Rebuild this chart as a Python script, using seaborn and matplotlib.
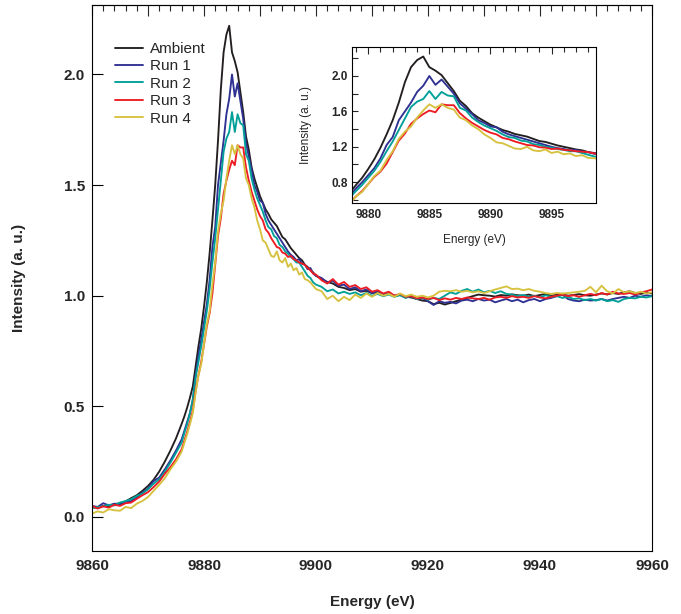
import numpy as np
import pandas as pd
import matplotlib
matplotlib.use('Agg')
import matplotlib.pyplot as plt
from matplotlib.ticker import MultipleLocator, FormatStrFormatter
import seaborn as sns

# Energy grid (eV): 1 eV pre-edge, 0.5 eV across the edge, 1 eV post-edge
energy = np.concatenate([
    np.arange(9860.0, 9876.5, 1.0),
    np.arange(9876.5, 9900.5, 0.5),
    np.arange(9901.0, 9960.5, 1.0),
])

ambient = [
    # 9860 - 9876
    0.045, 0.040, 0.050, 0.048, 0.058, 0.062, 0.070, 0.085, 0.098, 0.118,
    0.140, 0.168, 0.205, 0.250, 0.300, 0.355, 0.420,
    # 9876.5 - 9900
    0.455, 0.495, 0.540, 0.590, 0.680, 0.770, 0.850, 0.950, 1.060, 1.190,
    1.340, 1.500, 1.700, 1.930, 2.100, 2.180, 2.220, 2.100, 2.060, 2.010,
    1.920, 1.830, 1.720, 1.660, 1.580, 1.530, 1.490, 1.450, 1.420, 1.390,
    1.370, 1.345, 1.330, 1.315, 1.290, 1.265, 1.255, 1.235, 1.215, 1.200,
    1.185, 1.170, 1.160, 1.140, 1.130, 1.115, 1.105, 1.090,
    # 9901 - 9960
    1.075, 1.062, 1.055, 1.040, 1.035, 1.025, 1.030, 1.018, 1.022, 1.012,
    1.015, 1.005, 1.010, 1.000, 1.004, 0.995, 0.992, 0.985, 0.978, 0.975,
    0.962, 0.968, 0.960, 0.967, 0.975, 0.982, 0.990, 0.998, 1.005, 1.002,
    1.000, 0.996, 1.003, 1.000, 1.006, 1.002, 1.000, 1.005, 0.998, 1.003,
    1.008, 1.000, 1.004, 1.006, 1.000, 1.003, 1.007, 1.002, 1.000, 1.005,
    1.010, 1.006, 1.012, 1.008, 1.015, 1.020, 1.012, 1.008, 1.014, 1.010,
]

run1 = [
    0.050, 0.045, 0.062, 0.052, 0.060, 0.055, 0.068, 0.072, 0.088, 0.110,
    0.128, 0.162, 0.178, 0.215, 0.255, 0.300, 0.350,
    0.390, 0.430, 0.470, 0.530, 0.640, 0.730, 0.800, 0.880, 0.960, 1.070,
    1.220, 1.310, 1.500, 1.600, 1.700, 1.820, 1.890, 2.000, 1.900, 1.960,
    1.880, 1.800, 1.690, 1.630, 1.570, 1.500, 1.470, 1.430, 1.420, 1.370,
    1.340, 1.320, 1.300, 1.280, 1.260, 1.240, 1.220, 1.200, 1.185, 1.175,
    1.160, 1.165, 1.145, 1.140, 1.120, 1.125, 1.100, 1.090,
    1.080, 1.060, 1.068, 1.045, 1.050, 1.030, 1.038, 1.020, 1.028, 1.012,
    1.020, 1.005, 1.012, 0.998, 1.005, 0.992, 0.998, 0.985, 0.990, 0.975,
    0.958, 0.975, 0.968, 0.972, 0.965, 0.978, 0.982, 0.975, 0.985, 0.978,
    0.982, 0.970, 0.978, 0.985, 0.975, 0.982, 0.970, 0.980, 0.985, 0.975,
    0.985, 0.990, 0.998, 1.005, 0.985, 0.978, 0.975, 0.982, 0.978, 0.980,
    0.985, 0.978, 0.985, 0.990, 0.995, 0.990, 1.000, 0.995, 1.002, 0.998,
]

run2 = [
    0.040, 0.045, 0.048, 0.055, 0.052, 0.065, 0.072, 0.080, 0.095, 0.105,
    0.125, 0.150, 0.170, 0.205, 0.245, 0.290, 0.335,
    0.380, 0.420, 0.470, 0.530, 0.630, 0.700, 0.770, 0.850, 0.930, 1.030,
    1.150, 1.260, 1.390, 1.520, 1.650, 1.710, 1.740, 1.830, 1.740, 1.820,
    1.780, 1.770, 1.640, 1.610, 1.530, 1.480, 1.440, 1.410, 1.380, 1.340,
    1.310, 1.300, 1.270, 1.260, 1.230, 1.220, 1.200, 1.190, 1.175, 1.165,
    1.150, 1.150, 1.130, 1.110, 1.090, 1.080, 1.060, 1.050,
    1.040, 1.020, 1.028, 1.010, 1.018, 1.008, 1.015, 1.002, 1.012, 1.000,
    1.008, 0.998, 1.005, 0.995, 1.002, 0.990, 0.998, 0.985, 0.992, 0.982,
    0.990, 0.985, 1.000, 1.015, 1.008, 1.022, 1.030, 1.018, 1.028, 1.015,
    1.022, 1.012, 1.020, 1.008, 1.005, 0.998, 1.003, 0.995, 1.000, 0.992,
    1.002, 0.995, 0.998, 0.990, 0.995, 0.985, 0.988, 0.980, 0.985, 0.978,
    0.985, 0.975, 0.980, 0.972, 0.985, 0.990, 0.988, 0.995, 0.992, 0.998,
]

run3 = [
    0.050, 0.038, 0.048, 0.042, 0.055, 0.050, 0.062, 0.065, 0.082, 0.098,
    0.112, 0.135, 0.160, 0.195, 0.225, 0.260, 0.305,
    0.345, 0.385, 0.430, 0.480, 0.570, 0.640, 0.700, 0.780, 0.860, 0.920,
    1.010, 1.140, 1.270, 1.350, 1.460, 1.520, 1.570, 1.610, 1.590, 1.680,
    1.670, 1.670, 1.580, 1.520, 1.470, 1.430, 1.390, 1.360, 1.340, 1.300,
    1.285, 1.260, 1.240, 1.220, 1.215, 1.195, 1.190, 1.175, 1.180, 1.165,
    1.160, 1.150, 1.145, 1.140, 1.125, 1.115, 1.100, 1.095,
    1.070, 1.055, 1.075, 1.050, 1.062, 1.040, 1.048, 1.030, 1.038, 1.018,
    1.025, 1.010, 1.018, 1.000, 1.008, 0.995, 0.998, 0.988, 0.992, 0.985,
    0.990, 0.980, 0.988, 0.982, 0.990, 0.985, 0.992, 0.988, 0.985, 0.990,
    0.982, 0.992, 0.995, 0.990, 0.998, 0.992, 0.995, 0.990, 0.998, 0.992,
    0.988, 0.995, 1.000, 1.005, 0.998, 1.002, 0.995, 1.002, 1.008, 1.002,
    1.012, 1.005, 1.018, 1.010, 1.008, 1.012, 1.005, 1.015, 1.020, 1.028,
]

run4 = [
    0.015, 0.025, 0.020, 0.035, 0.030, 0.028, 0.045, 0.040, 0.060, 0.072,
    0.090, 0.118, 0.145, 0.175, 0.215, 0.250, 0.295,
    0.335, 0.375, 0.420, 0.470, 0.560, 0.640, 0.690, 0.780, 0.870, 0.930,
    1.050, 1.150, 1.290, 1.370, 1.430, 1.530, 1.610, 1.680, 1.640, 1.680,
    1.640, 1.620, 1.530, 1.500, 1.440, 1.400, 1.340, 1.300, 1.250, 1.240,
    1.210, 1.180, 1.175, 1.200, 1.160, 1.150, 1.170, 1.130, 1.145, 1.115,
    1.125, 1.095, 1.105, 1.075, 1.070, 1.060, 1.045, 1.030,
    1.020, 0.985, 1.000, 0.975, 0.995, 0.980, 1.005, 0.990, 1.010, 0.995,
    1.012, 1.000, 1.008, 0.995, 1.010, 0.998, 1.005, 0.995, 1.000, 0.992,
    1.000, 1.018, 1.022, 1.020, 1.025, 1.018, 1.022, 1.015, 1.020, 1.012,
    1.020, 1.028, 1.035, 1.042, 1.030, 1.032, 1.025, 1.030, 1.022, 1.018,
    1.012, 1.008, 1.012, 1.010, 1.012, 1.015, 1.018, 1.022, 1.040, 1.015,
    1.045, 1.020, 1.010, 1.030, 1.015, 1.020, 1.012, 1.018, 1.010, 1.015,
]

labels = ['Ambient', 'Run 1', 'Run 2', 'Run 3', 'Run 4']
colors = ['#231f20', '#2e3192', '#00a099', '#ed1c24', '#d6c23f']

frames = []
for lab, vals in zip(labels, [ambient, run1, run2, run3, run4]):
    frames.append(pd.DataFrame({'energy': energy, 'intensity': vals, 'sample': lab}))
df = pd.concat(frames, ignore_index=True)

sns.set_style('ticks')
plt.rcParams['font.family'] = ['Liberation Sans', 'DejaVu Sans']

fig = plt.figure(figsize=(6.81, 6.14), dpi=100)

# main panel
ax = fig.add_axes([0.1351, 0.1026, 0.8223, 0.8893])
sns.lineplot(data=df, x='energy', y='intensity', hue='sample', hue_order=labels,
             palette=colors, estimator=None, sort=False, lw=1.35, ax=ax)
ax.set_xlim(9860, 9960)
ax.set_ylim(-0.154, 2.314)
ax.xaxis.set_major_locator(MultipleLocator(20))
ax.yaxis.set_major_locator(MultipleLocator(0.5))
ax.yaxis.set_major_formatter(FormatStrFormatter('%.1f'))
ax.tick_params(axis='x', bottom=False, top=False, labelsize=11, pad=2.5)
ax.tick_params(axis='y', direction='in', left=True, right=False, length=8,
               width=0.8, color='black', labelsize=11, pad=5)
for sp in ax.spines.values():
    sp.set_visible(True)
    sp.set_linewidth(0.8)
    sp.set_color('black')

top = ax.secondary_xaxis('top')
top.xaxis.set_major_locator(MultipleLocator(10))
top.xaxis.set_minor_locator(MultipleLocator(2))
top.tick_params(which='major', direction='in', length=8, width=0.8, labeltop=False)
top.tick_params(which='minor', direction='in', length=4.5, width=0.8)
top.spines['top'].set_linewidth(0.8)

ax.set_xlabel('Energy (eV)', fontsize=11, fontweight='bold', labelpad=15.5)
ax.set_ylabel('Intensity (a. u.)', fontsize=11, fontweight='bold', labelpad=27)
plt.setp(ax.get_xticklabels() + ax.get_yticklabels(), fontweight='bold')

sns.move_legend(ax, 'upper left', bbox_to_anchor=(0.041, 0.932), frameon=False,
                title=None, fontsize=11, borderpad=0, borderaxespad=0,
                labelspacing=0.22, handlelength=1.85, handletextpad=0.45)

# inset zoom on the edge
ins = fig.add_axes([0.5169, 0.6694, 0.3583, 0.2541])
sns.lineplot(data=df, x='energy', y='intensity', hue='sample', hue_order=labels,
             palette=colors, estimator=None, sort=False, lw=1.35, legend=False, ax=ins)
ins.set_xlim(9878.67, 9898.64)
ins.set_ylim(0.565, 2.328)
ins.xaxis.set_major_locator(MultipleLocator(5))
ins.xaxis.set_minor_locator(MultipleLocator(1))
ins.yaxis.set_major_locator(MultipleLocator(0.4))
ins.yaxis.set_minor_locator(MultipleLocator(0.2))
ins.yaxis.set_major_formatter(FormatStrFormatter('%.1f'))
ins.tick_params(axis='x', which='both', bottom=False, top=True, direction='in',
                labelbottom=True, labelsize=8.5, pad=4, width=0.8)
ins.tick_params(axis='x', which='major', length=5)
ins.tick_params(axis='x', which='minor', length=3.5)
ins.tick_params(axis='y', which='both', left=True, right=False, direction='in',
                labelsize=8.5, pad=3, width=0.8, length=4.5)
for sp in ins.spines.values():
    sp.set_visible(True)
    sp.set_linewidth(0.8)
    sp.set_color('black')
ins.set_xlabel('Energy (eV)', fontsize=8.5, labelpad=10)
ins.set_ylabel('Intensity (a. u.)', fontsize=8.5, labelpad=14)
plt.setp(ins.get_xticklabels() + ins.get_yticklabels(), fontweight='bold')

fig.savefig('out.png', dpi=100)
